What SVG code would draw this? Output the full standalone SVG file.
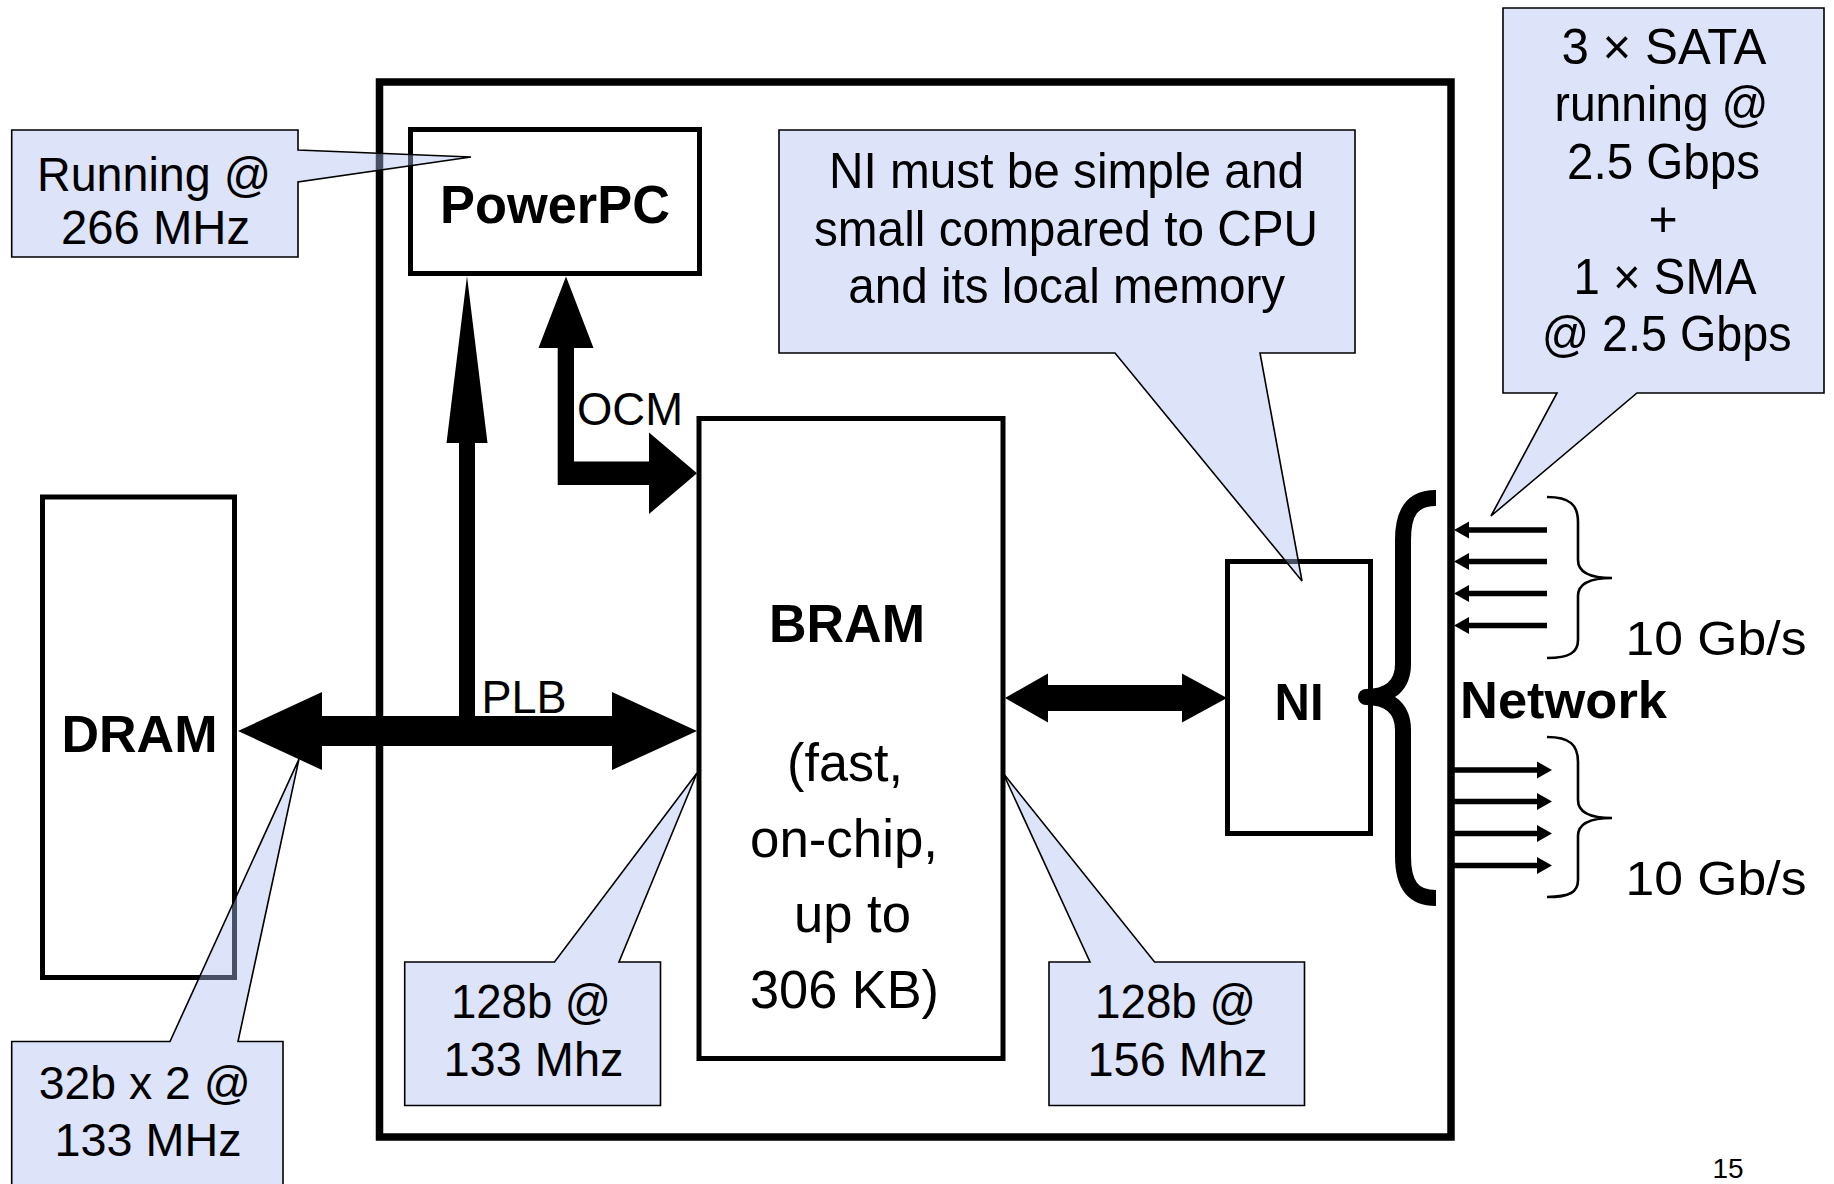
<svg xmlns="http://www.w3.org/2000/svg" width="1834" height="1184" viewBox="0 0 1834 1184">
<style>
.box{fill:#fff;stroke:#000;stroke-width:5}
.outer{fill:none;stroke:#000;stroke-width:7.5}
.call{fill:#afbcf0;fill-opacity:0.42;stroke:#000;stroke-width:1.6;stroke-linejoin:miter}
.t{font-family:"Liberation Sans",Arial,sans-serif;fill:#000;text-anchor:middle}
.b{font-weight:bold}
.arr{fill:#000;stroke:none}
.net{stroke:#000;stroke-width:5.5;fill:none}
.brace{fill:none;stroke:#000;stroke-width:2.6}
</style>
<defs>
<marker id="head" markerUnits="userSpaceOnUse" markerWidth="16" markerHeight="18" refX="0" refY="8.5" orient="auto" viewBox="0 0 16 17">
<path d="M0,0 L15,8.5 L0,17 Z" fill="#000"/>
</marker>
</defs>

<rect id="chip" class="outer" x="379.5" y="82" width="1071.5" height="1055"/>

<g id="powerpc">
<rect class="box" x="410.5" y="129.5" width="289" height="144"/>
<text class="t b" x="555" y="223" font-size="54" textLength="230" lengthAdjust="spacingAndGlyphs">PowerPC</text>
</g>

<g id="bram">
<rect class="box" x="699" y="418.5" width="304" height="640"/>
<text class="t b" x="847" y="642" font-size="54" textLength="156" lengthAdjust="spacingAndGlyphs">BRAM</text>
<text class="t" x="845" y="781" font-size="53" textLength="116" lengthAdjust="spacingAndGlyphs">(fast,</text>
<text class="t" x="844" y="856.5" font-size="53" textLength="188" lengthAdjust="spacingAndGlyphs">on-chip,</text>
<text class="t" x="852.5" y="932" font-size="53" textLength="117" lengthAdjust="spacingAndGlyphs">up to</text>
<text class="t" x="844.5" y="1008" font-size="53" textLength="189" lengthAdjust="spacingAndGlyphs">306 KB)</text>
</g>

<g id="ni">
<rect class="box" x="1227.5" y="561.5" width="143" height="272"/>
<text class="t b" x="1299" y="720" font-size="52" textLength="49" lengthAdjust="spacingAndGlyphs">NI</text>
</g>

<g id="dram">
<rect class="box" x="42.5" y="497" width="192" height="480.5"/>
<text class="t b" x="139.5" y="751.5" font-size="51" textLength="156" lengthAdjust="spacingAndGlyphs">DRAM</text>
</g>

<g id="network">
<path d="M1436,498 C1412,498 1403,512 1403,540 L1403,664 C1403,685 1390,697 1366,697 C1390,697 1403,709 1403,730 L1403,856 C1403,884 1412,898 1436,898" fill="none" stroke="#000" stroke-width="16" stroke-linejoin="round"/>
<text class="t b" x="1563.5" y="718" font-size="52" textLength="207" lengthAdjust="spacingAndGlyphs">Network</text>
<path class="brace" d="M1547,497 C1570,497 1578,505 1578,522 L1578,560 C1578,572 1590,578 1612,578 C1590,578 1578,584 1578,596 L1578,640 C1578,652 1570,658 1547,658"/>
<path class="brace" d="M1547,737 C1570,737 1578,745 1578,762 L1578,800 C1578,812 1590,818 1612,818 C1590,818 1578,824 1578,836 L1578,880 C1578,892 1570,897 1547,897"/>
<text class="t" x="1716" y="655" font-size="49" textLength="181" lengthAdjust="spacingAndGlyphs">10 Gb/s</text>
<text class="t" x="1716" y="895" font-size="49" textLength="181" lengthAdjust="spacingAndGlyphs">10 Gb/s</text>
</g>

<g id="connectors">
<path id="plb" class="arr" d="M238,731 L322,692 L322,716 L612,716 L612,692 L697,731 L612,770 L612,746 L322,746 L322,770 Z"/>
<path id="plb-ppc" class="arr" d="M467,276 L487.5,443 L475,443 L475,717 L459,717 L459,443 L446.5,443 Z"/>
<path id="ocm" class="arr" d="M566,276.5 L593.5,348 L574,348 L574,461.5 L649,461.5 L649,432.5 L697,473.3 L649,514 L649,485 L557.7,485 L557.7,348 L538.5,348 Z"/>
<path id="bram-ni" class="arr" d="M1005,698 L1048,673.5 L1048,685 L1182,685 L1182,673.5 L1227,698 L1182,722.5 L1182,711 L1048,711 L1048,722.5 Z"/>
<text class="t" x="630" y="425" font-size="46" textLength="106" lengthAdjust="spacingAndGlyphs">OCM</text>
<text class="t" x="524" y="712.5" font-size="46" textLength="85" lengthAdjust="spacingAndGlyphs">PLB</text>
<g marker-end="url(#head)">
<line class="net" x1="1547" y1="530" x2="1469" y2="530"/>
<line class="net" x1="1547" y1="561.5" x2="1469" y2="561.5"/>
<line class="net" x1="1547" y1="593.5" x2="1469" y2="593.5"/>
<line class="net" x1="1547" y1="625.5" x2="1469" y2="625.5"/>
<line class="net" x1="1453" y1="770" x2="1537" y2="770"/>
<line class="net" x1="1453" y1="801.5" x2="1537" y2="801.5"/>
<line class="net" x1="1453" y1="833.5" x2="1537" y2="833.5"/>
<line class="net" x1="1453" y1="865.5" x2="1537" y2="865.5"/>
</g>
</g>

<g id="note-running">
<path class="call" d="M11.7,130 H298 V150 L471,157 L298,182 V257 H11.7 Z"/>
<text class="t" x="154" y="191" font-size="48" textLength="234" lengthAdjust="spacingAndGlyphs">Running @</text>
<text class="t" x="155.5" y="244" font-size="48" textLength="189" lengthAdjust="spacingAndGlyphs">266 MHz</text>
</g>

<g id="note-ni">
<path class="call" d="M779,130 H1355 V353 H1260 L1302,581 L1115,353 H779 Z"/>
<text class="t" x="1066.5" y="188" font-size="50" textLength="475" lengthAdjust="spacingAndGlyphs">NI must be simple and</text>
<text class="t" x="1066" y="245.5" font-size="50" textLength="504" lengthAdjust="spacingAndGlyphs">small compared to CPU</text>
<text class="t" x="1066.7" y="303" font-size="50" textLength="437" lengthAdjust="spacingAndGlyphs">and its local memory</text>
</g>

<g id="note-sata">
<path class="call" d="M1503,8 H1824 V393 H1637 L1491,516 L1557,393 H1503 Z"/>
<text class="t" x="1664" y="64" font-size="50" textLength="205" lengthAdjust="spacingAndGlyphs">3 × SATA</text>
<text class="t" x="1661.5" y="121.3" font-size="50" textLength="214" lengthAdjust="spacingAndGlyphs">running @</text>
<text class="t" x="1663.5" y="178.6" font-size="50" textLength="193" lengthAdjust="spacingAndGlyphs">2.5 Gbps</text>
<text class="t" x="1663" y="236" font-size="50">+</text>
<text class="t" x="1665" y="293.5" font-size="50" textLength="183" lengthAdjust="spacingAndGlyphs">1 × SMA</text>
<text class="t" x="1666.7" y="350.5" font-size="50" textLength="250" lengthAdjust="spacingAndGlyphs">@ 2.5 Gbps</text>
</g>

<g id="note-dram">
<path class="call" d="M11.7,1041.5 H170 L299,759 L238,1041.5 H283 V1190 H11.7 Z"/>
<text class="t" x="144.8" y="1098.5" font-size="47" textLength="212" lengthAdjust="spacingAndGlyphs">32b x 2 @</text>
<text class="t" x="148" y="1156" font-size="47" textLength="187" lengthAdjust="spacingAndGlyphs">133 MHz</text>
</g>

<g id="note-plb">
<path class="call" d="M404.7,962 H554.5 L697,773 L619,962 H660.5 V1105.5 H404.7 Z"/>
<text class="t" x="531" y="1018" font-size="48" textLength="160" lengthAdjust="spacingAndGlyphs">128b @</text>
<text class="t" x="533.5" y="1075.5" font-size="48" textLength="180" lengthAdjust="spacingAndGlyphs">133 Mhz</text>
</g>

<g id="note-ni-bus">
<path class="call" d="M1049,962 H1090 L1003,773 L1154.6,962 H1304.5 V1105.5 H1049 Z"/>
<text class="t" x="1175.5" y="1018" font-size="48" textLength="161" lengthAdjust="spacingAndGlyphs">128b @</text>
<text class="t" x="1177.5" y="1075.5" font-size="48" textLength="180" lengthAdjust="spacingAndGlyphs">156 Mhz</text>
</g>

<text class="t" x="1728" y="1178" font-size="28">15</text>
</svg>
